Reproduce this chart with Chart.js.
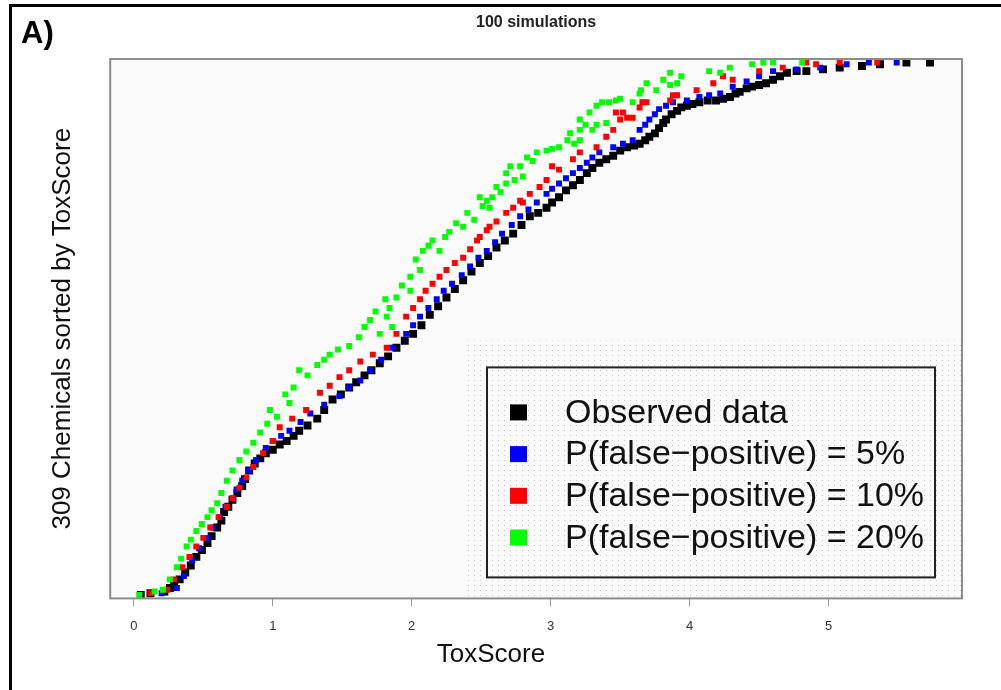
<!DOCTYPE html>
<html>
<head>
<meta charset="utf-8">
<script src="https://cdn.jsdelivr.net/npm/chart.js@4.4.0/dist/chart.umd.min.js"></script>
<style>
body { margin: 0; background: #fff; }
#wrap { position: relative; width: 1001px; height: 690px; overflow: hidden; }
#frame { position: absolute; left: 9px; top: 4px; width: 1010px; height: 700px;
         border-top: 3px solid #000; border-left: 3px solid #000; pointer-events: none; }
</style>
</head>
<body>
<div id="wrap">
  <canvas id="tox-chart" width="1001" height="690"></canvas>
  <div id="frame"></div>
</div>
<script>
// tick labels on the ToxScore axis
var xTicks = [0, 1, 2, 3, 4, 5];

// observed data: ToxScore and rank of the chemical (1..309)
var obsX = [0.05, 0.12, 0.22, 0.26, 0.29, 0.33, 0.37, 0.41, 0.45, 0.49, 0.53, 0.56, 0.60, 0.63, 0.65, 0.68,
            0.71, 0.745, 0.78, 0.80, 0.83, 0.87, 0.91, 0.95, 1.00, 1.05, 1.10, 1.15, 1.19, 1.25, 1.32, 1.37,
            1.43, 1.49, 1.55, 1.60, 1.66, 1.71, 1.77, 1.83, 1.89, 1.95, 2.01, 2.07, 2.13, 2.19, 2.25, 2.31,
            2.37, 2.43, 2.49, 2.55, 2.61, 2.67, 2.73, 2.79, 2.85, 2.91, 2.97, 3.01, 3.06, 3.11, 3.16, 3.21,
            3.26, 3.30, 3.35, 3.40, 3.45, 3.50, 3.55, 3.60, 3.64, 3.68, 3.71, 3.75, 3.78, 3.81, 3.83, 3.87,
            3.91, 3.94, 3.98, 4.02, 4.07, 4.13, 4.19, 4.24, 4.29, 4.33, 4.36, 4.41, 4.45, 4.50, 4.55, 4.60,
            4.65, 4.70, 4.77, 4.84, 4.96, 5.08, 5.24, 5.37, 5.56, 5.73];
var obsY = [1, 2, 3, 5, 7, 10, 14, 18, 23, 27, 31, 35, 40, 44, 49, 52,
            56, 60, 64, 68, 73, 77, 80, 83, 85, 88, 90, 93, 96, 99, 103, 108,
            114, 117, 121, 124, 128, 131, 135, 139, 144, 148, 152, 157, 163, 168, 173, 178,
            183, 188, 193, 197, 202, 206, 210, 215, 220, 222, 225, 228, 231, 235, 238, 241,
            245, 248, 251, 253, 255, 258, 260, 261, 262, 264, 266, 268, 271, 274, 276, 279,
            281, 283, 284, 285, 286, 287, 287, 288, 289, 291, 292, 294, 295, 296, 297, 299,
            301, 303, 304, 304, 305, 306, 307, 308, 309, 309];

// P(false-positive) = 5%
var p5X = [0.20, 0.31, 0.36, 0.42, 0.47, 0.53, 0.57, 0.62, 0.66, 0.71, 0.74, 0.78, 0.83, 0.88, 0.95, 1.00,
           1.06, 1.12, 1.20, 1.27, 1.37, 1.48, 1.55, 1.63, 1.70, 1.78, 1.86, 1.96, 2.01, 2.06, 2.12, 2.18,
           2.23, 2.29, 2.36, 2.42, 2.48, 2.54, 2.60, 2.65, 2.72, 2.78, 2.84, 2.90, 2.97, 3.01, 3.06, 3.11,
           3.16, 3.21, 3.26, 3.30, 3.35, 3.45, 3.52, 3.59, 3.64, 3.68, 3.71, 3.75, 3.78, 3.83, 3.88, 3.98,
           4.07, 4.14, 4.22, 4.31, 4.41, 4.50, 4.60, 4.77, 4.94, 5.13, 5.29, 5.49];
var p5Y = [2, 5, 12, 21, 28, 34, 40, 46, 52, 57, 62, 67, 73, 79, 86, 90,
           93, 96, 101, 106, 111, 116, 121, 125, 131, 137, 144, 152, 157, 162, 167, 172,
           177, 181, 186, 191, 196, 200, 205, 210, 215, 220, 224, 228, 233, 236, 239, 242,
           245, 248, 251, 254, 257, 260, 262, 264, 270, 273, 276, 279, 282, 284, 286, 287,
           289, 290, 291, 295, 298, 301, 304, 305, 306, 308, 309, 309];

// P(false-positive) = 10%
var p10X = [0.12, 0.24, 0.29, 0.35, 0.40, 0.45, 0.50, 0.55, 0.61, 0.67, 0.71, 0.76, 0.81, 0.86, 0.93, 1.00,
            1.05, 1.14, 1.24, 1.34, 1.41, 1.48, 1.55, 1.63, 1.72, 1.82, 1.89, 1.96, 2.01, 2.06, 2.10, 2.15,
            2.20, 2.25, 2.31, 2.37, 2.42, 2.47, 2.49, 2.54, 2.56, 2.61, 2.68, 2.73, 2.78, 2.80, 2.85, 2.92,
            2.97, 3.01, 3.06, 3.16, 3.21, 3.33, 3.40, 3.45, 3.47, 3.50, 3.52, 3.55, 3.59, 3.64, 3.66, 3.69,
            3.86, 3.88, 3.91, 4.05, 4.17, 4.24, 4.31, 4.50, 4.67, 4.84, 4.91, 5.08, 5.35];
var p10Y = [2, 4, 10, 17, 23, 29, 34, 40, 46, 52, 57, 63, 69, 75, 83, 90,
            98, 103, 108, 118, 122, 127, 131, 136, 140, 144, 152, 162, 167, 172, 177, 181,
            185, 189, 193, 196, 201, 206, 208, 212, 214, 217, 222, 225, 229, 228, 233, 237,
            241, 249, 247, 253, 257, 260, 266, 270, 280, 276, 280, 277, 277, 283, 286, 286,
            287, 290, 290, 293, 297, 301, 299, 304, 306, 309, 308, 309, 309];

// P(false-positive) = 20%
var p20X = [0.04, 0.15, 0.21, 0.26, 0.31, 0.34, 0.38, 0.41, 0.45, 0.49, 0.53, 0.56, 0.60, 0.63, 0.67, 0.71,
            0.76, 0.81, 0.86, 0.91, 0.96, 0.98, 1.03, 1.09, 1.12, 1.15, 1.19, 1.25, 1.32, 1.37, 1.41, 1.47,
            1.55, 1.62, 1.66, 1.70, 1.74, 1.77, 1.81, 1.82, 1.84, 1.86, 1.89, 1.93, 1.99, 1.99, 2.03, 2.06,
            2.08, 2.12, 2.15, 2.20, 2.24, 2.27, 2.32, 2.37, 2.40, 2.45, 2.49, 2.51, 2.54, 2.56, 2.58, 2.61,
            2.64, 2.68, 2.68, 2.71, 2.74, 2.78, 2.80, 2.83, 2.87, 2.90, 2.97, 3.01, 3.06, 3.12, 3.14, 3.17,
            3.21, 3.21, 3.21, 3.25, 3.28, 3.30, 3.33, 3.33, 3.37, 3.40, 3.42, 3.47, 3.50, 3.59, 3.64, 3.65,
            3.69, 3.76, 3.81, 3.86, 3.86, 3.91, 3.94, 4.14, 4.22, 4.29, 4.45, 4.53, 4.60, 4.81];
var p20Y = [1, 3, 4, 10, 17, 22, 29, 33, 38, 42, 46, 50, 54, 60, 67, 73,
            79, 84, 89, 95, 100, 108, 104, 117, 112, 121, 131, 128, 134, 137, 140, 143,
            145, 150, 156, 160, 165, 152, 172, 162, 167, 156, 173, 180, 177, 185, 195, 189,
            200, 203, 206, 200, 208, 211, 216, 214, 222, 218, 231, 226, 229, 225, 231, 237,
            234, 239, 245, 249, 241, 249, 243, 254, 252, 257, 258, 259, 260, 264, 268, 262,
            276, 270, 264, 273, 280, 270, 284, 273, 286, 274, 286, 287, 288, 286, 291, 293,
            297, 293, 299, 303, 296, 297, 301, 304, 303, 306, 308, 309, 309, 309];

var legendLabels = ['Observed data', 'P(false\u2212positive) = 5%', 'P(false\u2212positive) = 10%', 'P(false\u2212positive) = 20%'];
var seriesColors = ['#000000', '#0000ff', '#ff0000', '#00ff00'];

var fontName = '"Liberation Sans", Arial, Helvetica, sans-serif';

function toPoints(xs, ys) {
    return xs.map(function(x, i) { return {x: x, y: ys[i]}; });
}

// background of the plot, dotted patch behind the legend, box, legend and titles
var decorations = {
    id: 'decorations',
    beforeDatasetsDraw: function(chart) {
        var a = chart.chartArea, ctx = chart.ctx;
        ctx.save();
        ctx.fillStyle = '#fafafa';
        ctx.fillRect(a.left, a.top, a.right - a.left, a.bottom - a.top);

        var pat = document.createElement('canvas');
        pat.width = 6; pat.height = 5;
        var pc = pat.getContext('2d');
        pc.fillStyle = '#c8c8c8';
        pc.fillRect(0, 0, 1, 1);
        ctx.fillStyle = ctx.createPattern(pat, 'repeat');
        ctx.fillRect(a.right - 495, a.bottom - 258, 495, 256);
        ctx.restore();
    },
    afterDraw: function(chart) {
        var a = chart.chartArea, ctx = chart.ctx;
        ctx.save();
        // plot box
        ctx.strokeStyle = '#8c8c8c';
        ctx.lineWidth = 2;
        ctx.strokeRect(a.left, a.top, a.right - a.left, a.bottom - a.top);

        // legend
        var bx = a.right - 475, by = a.bottom - 231;
        ctx.strokeStyle = '#222';
        ctx.lineWidth = 2;
        ctx.strokeRect(bx, by, 448, 210);
        ctx.font = '34px ' + fontName;
        ctx.textBaseline = 'middle';
        ctx.textAlign = 'left';
        for (var i = 0; i < legendLabels.length; i++) {
            var ry = by + 45 + i * 41.7;
            ctx.fillStyle = seriesColors[i];
            ctx.fillRect(bx + 23, ry - 8, 17, 16);
            ctx.fillStyle = '#111';
            ctx.fillText(legendLabels[i], bx + 78, ry + 1);
        }

        // x axis title, centred on the figure as in the original
        ctx.fillStyle = '#111';
        ctx.textAlign = 'center';
        ctx.font = '26px ' + fontName;
        ctx.fillText('ToxScore', 491, a.bottom + 56);

        // title and panel letter
        ctx.fillStyle = '#222';
        ctx.font = 'bold 16px ' + fontName;
        ctx.fillText('100 simulations', (a.left + a.right) / 2, 23);
        ctx.fillStyle = '#000';
        ctx.textAlign = 'left';
        ctx.font = 'bold 31px ' + fontName;
        ctx.fillText('A)', 21, 34);
        ctx.restore();
    }
};

function makeSet(label, xs, ys, color, radius, order) {
    return {
        label: label,
        data: toPoints(xs, ys),
        backgroundColor: color,
        borderWidth: 0,
        pointStyle: 'rect',
        pointRadius: radius,
        pointHoverRadius: radius,
        order: order
    };
}

var ctx = document.getElementById('tox-chart');
var toxChart = new Chart(ctx, {
    type: 'scatter',
    data: {
        datasets: [
            makeSet(legendLabels[0], obsX, obsY, seriesColors[0], 5.6, 3),
            makeSet(legendLabels[1], p5X, p5Y, seriesColors[1], 4.2, 2),
            makeSet(legendLabels[2], p10X, p10Y, seriesColors[2], 4.2, 1),
            makeSet(legendLabels[3], p20X, p20Y, seriesColors[3], 4.2, 0)
        ]
    },
    options: {
        responsive: false,
        animation: false,
        events: [],
        layout: { padding: { left: 47, right: 39, top: 59, bottom: 44 } },
        plugins: {
            legend: { display: false },
            tooltip: { enabled: false }
        },
        scales: {
            x: {
                type: 'linear',
                min: -0.17,
                max: 5.96,
                afterBuildTicks: function(scale) {
                    scale.ticks = xTicks.map(function(v) { return {value: v}; });
                },
                grid: { display: true, drawOnChartArea: false, drawTicks: true, tickLength: 8, color: '#999' },
                border: { display: false },
                ticks: { color: '#333', padding: 12, font: { family: fontName, size: 13 } },
                title: { display: false }
            },
            y: {
                type: 'linear',
                min: -1,
                max: 311,
                grid: { display: false, drawTicks: false },
                border: { display: false },
                ticks: { display: false },
                title: {
                    display: true, text: '309 Chemicals sorted by ToxScore', color: '#111',
                    font: { family: fontName, size: 26 },
                    padding: { top: 0, bottom: 32 }
                }
            }
        }
    },
    plugins: [decorations]
});
</script>
</body>
</html>
